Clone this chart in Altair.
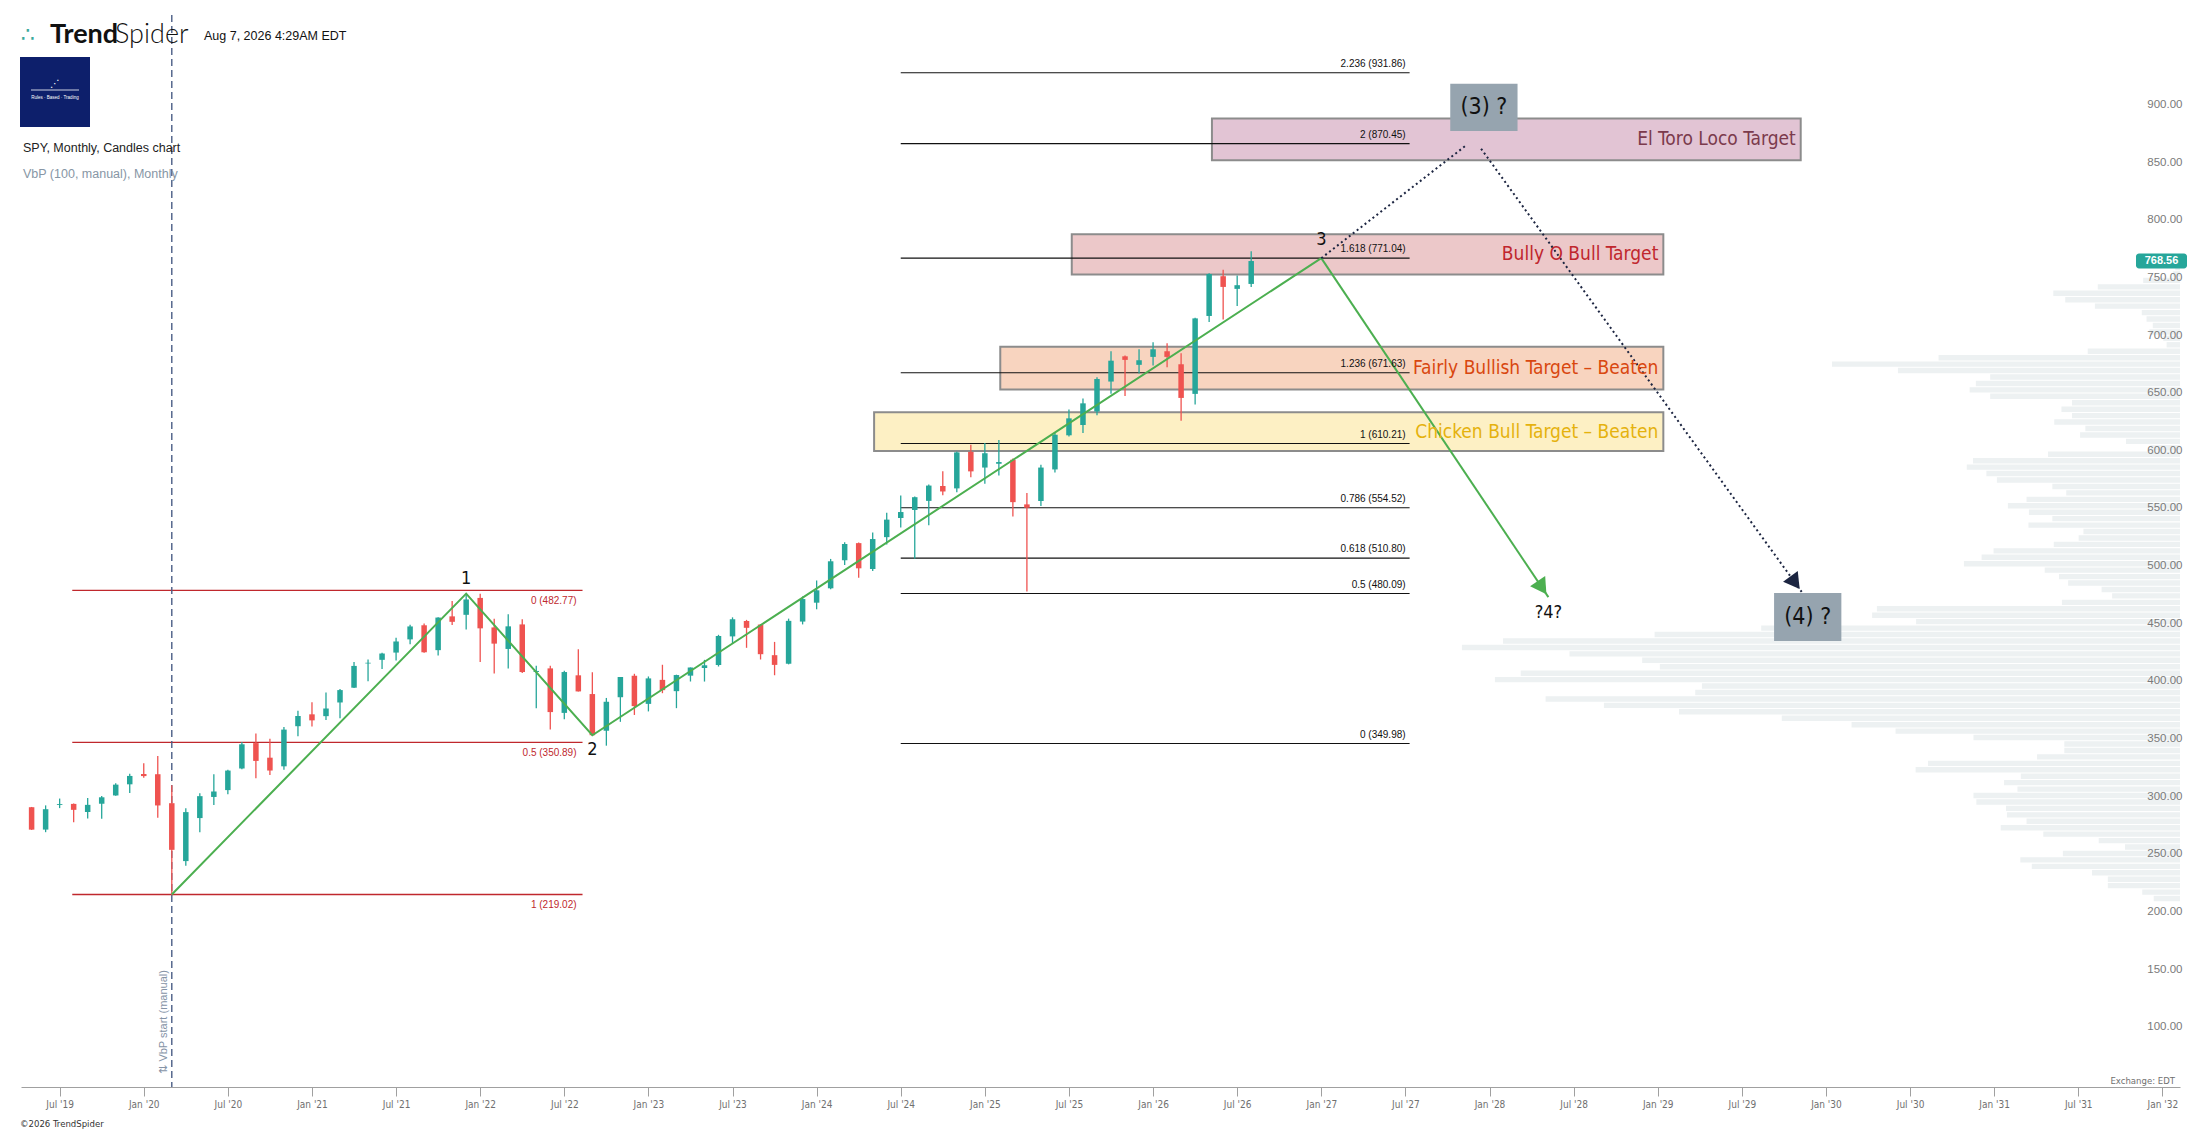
import json
import altair as alt
import pandas as pd

# ---------------- data ----------------
# month index: Jan 2019 = 0, so May 2019 = 4 ... Aug 2026 = 91
first_month = 4
opens = [294.72, 275.31, 296.68, 297.60, 290.57, 297.74, 304.92, 314.59,
         323.54, 323.35, 298.21, 247.98, 285.31, 303.62, 309.57, 328.32, 350.35, 337.69, 330.20, 365.00,
         375.31, 373.72, 385.59, 398.40, 419.43, 422.59, 428.87, 440.34, 452.56, 430.98, 460.30, 461.64,
         476.30, 450.68, 432.03, 453.31, 412.07, 415.17, 376.56, 409.15, 392.89, 361.08, 390.14, 408.77,
         384.37, 405.21, 395.41, 408.85, 415.51, 418.09, 442.92, 456.27, 453.17, 426.62, 419.20, 455.77,
         472.16, 484.63, 508.98, 523.83, 501.38, 529.02, 545.63, 552.57, 560.47, 573.40, 571.32, 602.97,
         589.39, 592.67, 596.18, 557.45, 560.37, 587.76, 617.38, 626.30, 638.00, 664.00, 685.90, 678.50,
         685.40, 690.30, 679.00, 653.30, 720.90, 755.40, 744.40, 748.70]
highs = [294.95, 296.31, 302.23, 297.91, 302.63, 304.55, 315.48, 323.80,
         332.95, 339.08, 313.84, 293.80, 306.84, 323.41, 327.23, 351.30, 358.75, 354.02, 364.38, 378.46,
         385.85, 394.17, 397.26, 420.72, 422.82, 428.78, 441.80, 453.07, 454.05, 459.56, 473.54, 479.00,
         479.98, 458.12, 462.07, 457.83, 417.44, 417.44, 413.03, 431.73, 411.73, 389.52, 407.68, 410.49,
         408.16, 418.31, 409.70, 415.94, 422.58, 444.30, 459.44, 457.25, 453.67, 438.14, 458.32, 477.55,
         491.42, 510.13, 524.61, 524.38, 533.07, 550.28, 565.16, 564.20, 574.71, 586.12, 603.35, 609.07,
         610.78, 613.23, 597.34, 567.42, 591.92, 620.34, 639.84, 649.30, 667.80, 690.30, 686.50, 692.00,
         698.00, 697.20, 688.60, 719.40, 758.00, 761.00, 755.90, 777.10]
lows = [275.00, 273.06, 293.95, 281.72, 284.84, 284.82, 304.74, 307.13,
        320.36, 285.54, 218.26, 243.90, 272.99, 296.74, 306.06, 327.73, 319.80, 322.60, 327.24, 356.32,
        364.82, 370.38, 371.88, 398.18, 404.00, 414.70, 421.97, 436.10, 428.78, 426.36, 452.75, 448.92,
        420.76, 410.64, 415.12, 411.21, 380.54, 362.17, 371.04, 395.04, 357.04, 348.11, 368.79, 374.77,
        377.83, 393.64, 380.65, 403.78, 403.74, 416.79, 437.06, 433.01, 422.88, 409.21, 418.65, 453.31,
        466.43, 483.80, 504.91, 493.86, 499.55, 522.60, 537.45, 510.27, 539.44, 565.27, 567.89, 580.91,
        575.35, 582.44, 546.87, 481.80, 556.04, 585.06, 616.36, 619.40, 634.80, 653.50, 651.50, 671.00,
        678.00, 676.50, 629.90, 644.10, 715.70, 717.80, 729.60, 746.00]
closes = [275.27, 293.00, 297.43, 292.45, 296.77, 303.33, 314.31, 321.86,
          321.73, 296.26, 257.75, 290.48, 304.32, 308.36, 326.52, 349.31, 334.89, 326.54, 362.06, 373.88,
          370.07, 380.36, 396.33, 417.30, 420.04, 428.06, 438.51, 451.56, 429.14, 459.25, 455.56, 474.96,
          449.91, 436.63, 451.64, 412.00, 412.93, 377.25, 411.99, 395.18, 357.18, 386.21, 407.68, 382.43,
          406.48, 396.26, 409.39, 415.93, 417.85, 443.28, 457.79, 450.35, 427.48, 418.20, 456.40, 475.31,
          482.88, 508.08, 523.07, 501.98, 527.37, 544.22, 550.81, 563.68, 573.76, 568.64, 602.55, 586.08,
          601.82, 594.18, 559.39, 554.54, 589.39, 617.85, 632.08, 645.10, 666.20, 682.10, 682.80, 682.50,
          692.00, 685.40, 649.80, 718.80, 757.30, 746.10, 747.60, 768.56]
months = list(range(first_month, first_month + len(opens)))

# Volume by price (100 bins, bottom -> top), relative volume
vbp_low = 212.7
vbp_step = 5.586
vbp_volume = [55, 79, 151, 151, 184, 310, 334, 245, 115, 170,
              286, 375, 321, 362, 364, 426, 432, 340, 368, 333,
              553, 527, 299, 242, 242, 432, 595, 687, 833, 1048,
              1205, 1327, 1014, 1000, 1433, 1379, 1088, 1125, 1277, 1502,
              1416, 1099, 876, 552, 644, 634, 247, 142, 164, 234,
              253, 283, 452, 415, 390, 264, 212, 202, 317, 267,
              316, 360, 321, 238, 267, 383, 405, 446, 433, 276,
              62, 113, 209, 198, 263, 226, 248, 226, 397, 440,
              427, 397, 590, 728, 505, 193, 28, 35, 64, 57,
              70, 80, 178, 240, 265, 172, 77, 15, 10, 5]

# Fibonacci extension (right) and retracement (left)
fib_r_levels = ["2.236", "2", "1.618", "1.236", "1", "0.786", "0.618", "0.5", "0"]
fib_r_prices = [931.86, 870.45, 771.04, 671.63, 610.21, 554.52, 510.80, 480.09, 349.98]
fib_r_start, fib_r_end = 66, 102.3
fib_l_levels = ["0", "0.5", "1"]
fib_l_prices = [482.77, 350.89, 219.02]
fib_l_start, fib_l_end = 6.9, 43.3

# target zones
zone_names = ["Chicken Bull Target – Beaten", "Fairly Bullish Target – Beaten",
              "Bully O Bull Target", "El Toro Loco Target"]
zone_start = [64.1, 73.1, 78.2, 88.2]
zone_end = [120.4, 120.4, 120.4, 130.2]
zone_low = [603.8, 657.1, 756.8, 856.0]
zone_high = [637.4, 694.1, 791.8, 892.2]
zone_fill = ["#fdf0c4", "#f8d4bf", "#ecc8c9", "#e2c4d4"]
zone_text = ["#e5b20e", "#d9470f", "#c0262d", "#7b3a4c"]

# Elliott wave path
wave_m = [14, 35, 44, 96]
wave_p = [219.02, 479.98, 357.18, 771.04]
wave_labels = ["1", "2", "3", "?4?"]
wave_label_m = [35, 44, 96, 112.2]
wave_label_p = [493, 344, 787, 463]
proj_green = [(96, 771.04), (112.2, 477.0)]
proj_dot_a = [(96, 771.04), (106.4, 869.6)]
proj_dot_b = [(107.4, 866.0), (130.3, 481.0)]

q_names = ["(3) ?", "(4) ?"]
q_start = [105.2, 128.3]
q_end = [110.0, 133.1]
q_low = [881.4, 439.0]
q_high = [922.3, 480.6]

vbp_start_month = 14
last_price = closes[-1]

tick_months = list(range(6, 157, 6))
tick_labels = ["Jul '19", "Jan '20", "Jul '20", "Jan '21", "Jul '21", "Jan '22", "Jul '22",
               "Jan '23", "Jul '23", "Jan '24", "Jul '24", "Jan '25", "Jul '25", "Jan '26",
               "Jul '26", "Jan '27", "Jul '27", "Jan '28", "Jul '28", "Jan '29", "Jul '29",
               "Jan '30", "Jul '30", "Jan '31", "Jul '31", "Jan '32"]
price_ticks = list(range(100, 901, 50))

# ---------------- styling ----------------
W, H = 2159, 1072
NARROW = "Liberation Sans Narrow, DejaVu Sans Condensed, Liberation Sans, sans-serif"
SANS = "Liberation Sans, DejaVu Sans, sans-serif"
UP, DOWN = "#26a69a", "#ef5350"

x_scale = alt.Scale(domain=[3.6, 156.9], nice=False, zero=False)
y_scale = alt.Scale(domain=[52, 982], nice=False, zero=False)
label_expr = json.dumps(tick_labels) + "[round((datum.value - 6) / 6)]"
x_axis = alt.Axis(values=tick_months, labelExpr=label_expr, grid=False, title=None,
                  domainColor="#a0a0a0", tickColor="#a0a0a0", tickSize=9, zindex=1,
                  labelFont=NARROW, labelFontSize=10, labelColor="#707070", labelPadding=3)
y_axis = alt.Axis(orient="right", values=price_ticks, format=".2f", grid=False, title=None,
                  domain=False, ticks=False, labelAlign="right", labelPadding=2, zindex=1,
                  labelBaseline="bottom", labelFont=SANS, labelFontSize=11.5, labelColor="#7a7a7a")


def X(f):
    return alt.X(f, type="quantitative", scale=x_scale, axis=x_axis)


def Y(f):
    return alt.Y(f, type="quantitative", scale=y_scale, axis=y_axis)


one = pd.DataFrame({"a": [0]})

# ---------------- layers ----------------
candles = pd.DataFrame({"m": months, "o": opens, "h": highs, "l": lows, "c": closes})
col = alt.condition("datum.c >= datum.o", alt.value(UP), alt.value(DOWN))
wicks = alt.Chart(candles).mark_rule(strokeWidth=1.3).encode(x=X("m"), y=Y("l"), y2="h", color=col)
bodies = alt.Chart(candles).mark_bar(size=5.5).encode(x=X("m"), y=Y("o"), y2="c", color=col)

vbp_df = pd.DataFrame({"i": list(range(len(vbp_volume))), "v": vbp_volume})
vbp = alt.Chart(vbp_df).transform_calculate(
    lo=f"{vbp_low} + datum.i * {vbp_step} + 0.45",
    hi=f"{vbp_low} + (datum.i + 1) * {vbp_step} - 0.45",
    zero="0",
).mark_rect(color="#edf1f2").encode(
    x=alt.X("v:Q", scale=alt.Scale(domain=[0, 4516], reverse=True, nice=False, zero=True), axis=None),
    x2="zero:Q",
    y=Y("lo"), y2="hi",
)

zones = pd.DataFrame({"name": zone_names, "m0": zone_start, "m1": zone_end, "lo": zone_low,
                      "hi": zone_high, "fill": zone_fill, "tc": zone_text})
zone_rects = alt.Chart(zones).mark_rect(stroke="#8c8c8c", strokeWidth=2).encode(
    x=X("m0"), x2="m1", y=Y("lo"), y2="hi", fill=alt.Fill("fill:N", scale=None))
zone_labels = alt.Chart(zones).transform_calculate(mid="(datum.lo + datum.hi) / 2").mark_text(
    align="right", baseline="middle", dx=-5, font=NARROW, fontSize=19).encode(
    x=X("m1"), y=Y("mid"), text="name:N", color=alt.Color("tc:N", scale=None))

fr = pd.DataFrame({"lvl": fib_r_levels, "p": fib_r_prices})
fr["txt"] = [f"{a} ({b:.2f})" for a, b in zip(fib_r_levels, fib_r_prices)]
fr["m0"] = fib_r_start
fr["m1"] = fib_r_end
fib_r_lines = alt.Chart(fr).mark_rule(color="#111111", strokeWidth=1.1).encode(
    x=X("m0"), x2="m1", y=Y("p"))
fib_r_text = alt.Chart(fr).mark_text(align="right", baseline="alphabetic", dx=-4, dy=-6,
                                      font=SANS, fontSize=10, color="#111111").encode(
    x=X("m1"), y=Y("p"), text="txt:N")

fl = pd.DataFrame({"lvl": fib_l_levels, "p": fib_l_prices})
fl["txt"] = [f"{a} ({b:.2f})" for a, b in zip(fib_l_levels, fib_l_prices)]
fl["m0"] = fib_l_start
fl["m1"] = fib_l_end
fib_l_lines = alt.Chart(fl).mark_rule(color="#c0282d", strokeWidth=1.3).encode(
    x=X("m0"), x2="m1", y=Y("p"))
fib_l_text = alt.Chart(fl).mark_text(align="right", baseline="top", dx=-6, dy=6,
                                      font=SANS, fontSize=10, color="#c0282d").encode(
    x=X("m1"), y=Y("p"), text="txt:N")

vline_df = pd.DataFrame({"m": [vbp_start_month]})
vline = alt.Chart(vline_df).mark_rule(color="#4b5e86", strokeWidth=1.4, strokeDash=[7, 4]).encode(x=X("m"))
vline_text = alt.Chart(vline_df).mark_text(angle=270, align="center", baseline="bottom", dy=-3,
                                            font=SANS, fontSize=11, color="#8593a6").encode(
    x=X("m"), y=alt.value(1007), text=alt.value("⇅ VbP start (manual)"))

wave_df = pd.DataFrame({"m": wave_m, "p": wave_p, "k": list(range(len(wave_m)))})
wave_line = alt.Chart(wave_df).mark_line(color="#4caf50", strokeWidth=2).encode(
    x=X("m"), y=Y("p"), order="k:O")

g_df = pd.DataFrame({"m": [a for a, b in proj_green], "p": [b for a, b in proj_green], "k": [0, 1]})
green_line = alt.Chart(g_df).mark_line(color="#4caf50", strokeWidth=2).encode(
    x=X("m"), y=Y("p"), order="k:O")

d_df = pd.DataFrame({"m": [a for a, b in proj_dot_a] + [a for a, b in proj_dot_b],
                     "p": [b for a, b in proj_dot_a] + [b for a, b in proj_dot_b],
                     "seg": ["a", "a", "b", "b"], "k": [0, 1, 0, 1]})
dot_lines = alt.Chart(d_df).mark_line(color="#1c2541", strokeWidth=2, strokeDash=[2, 3]).encode(
    x=X("m"), y=Y("p"), detail="seg:N", order="k:O")


def head_point(seg, t):
    (m0, p0), (m1, p1) = seg
    return m0 + (m1 - m0) * t, p0 + (p1 - p0) * t


gh = head_point(proj_green, 0.972)
bh = head_point(proj_dot_b, 0.978)
green_head = alt.Chart(pd.DataFrame({"m": [gh[0]], "p": [gh[1]]})).mark_point(
    shape="triangle-up", filled=True, size=330, angle=146, color="#4caf50", opacity=1).encode(
    x=X("m"), y=Y("p"))
black_head = alt.Chart(pd.DataFrame({"m": [bh[0]], "p": [bh[1]]})).mark_point(
    shape="triangle-up", filled=True, size=330, angle=144, color="#1c2541", opacity=1).encode(
    x=X("m"), y=Y("p"))

wl_df = pd.DataFrame({"t": wave_labels, "m": wave_label_m, "p": wave_label_p})
wave_text = alt.Chart(wl_df).mark_text(align="center", baseline="middle", font=NARROW,
                                       fontSize=18, color="#111111").encode(
    x=X("m"), y=Y("p"), text="t:N")

q_df = pd.DataFrame({"t": q_names, "m0": q_start, "m1": q_end, "lo": q_low, "hi": q_high})
q_rects = alt.Chart(q_df).mark_rect(color="#96a4af").encode(x=X("m0"), x2="m1", y=Y("lo"), y2="hi")
q_text = alt.Chart(q_df).transform_calculate(
    mx="(datum.m0 + datum.m1) / 2", my="(datum.lo + datum.hi) / 2").mark_text(
    align="center", baseline="middle", font=NARROW, fontSize=23, color="#111111").encode(
    x=X("mx"), y=Y("my"), text="t:N")

tag_df = pd.DataFrame({"p": [last_price]})
tag_rect = alt.Chart(tag_df).transform_calculate(lo="datum.p - 6.5", hi="datum.p + 6.5").mark_rect(
    color="#26a69a", cornerRadius=3).encode(x=alt.value(2115), x2=alt.value(2166), y=Y("lo"), y2="hi")
tag_text = alt.Chart(tag_df).mark_text(align="center", baseline="middle", font=SANS, fontSize=11,
                                       fontWeight="bold", color="white").encode(
    x=alt.value(2140.5), y=Y("p"), text=alt.Text("p:Q", format=".2f"))


# header & footer
def txt(s, x, y, **kw):
    return alt.Chart(one).mark_text(**kw).encode(x=alt.value(x), y=alt.value(y), text=alt.value(s))


logo_icon = txt("∴", 0, 27, align="left", baseline="alphabetic", font="DejaVu Sans", fontSize=22,
                color="#3aa99c")
logo_a = txt("Trend", 29, 28, align="left", baseline="alphabetic", font="Lato, Liberation Sans",
             fontSize=27, fontWeight="bold", color="#111111")
logo_b = txt("Spider", 94, 28, align="left", baseline="alphabetic", font="Lato, Liberation Sans",
             fontSize=27, fontWeight=300, color="#111111")
date_t = txt("Aug 7, 2026 4:29AM EDT", 183, 21, align="left", baseline="middle", font=SANS,
             fontSize=12.5, color="#111111")
blue_sq = alt.Chart(one).mark_rect(color="#0d1f6b").encode(
    x=alt.value(-1), x2=alt.value(69), y=alt.value(42), y2=alt.value(112))
sq_line = alt.Chart(one).mark_rule(color="white", strokeWidth=0.8).encode(
    x=alt.value(10), x2=alt.value(58), y=alt.value(75))
sq_text = txt("Rules · Based · Trading", 34, 83, align="center", baseline="middle", font=SANS,
              fontSize=4.5, color="white")
sq_dots = txt("⋰", 34, 69, align="center", baseline="middle", font="DejaVu Sans", fontSize=10,
              color="white")
spy_t = txt("SPY, Monthly, Candles chart", 2, 133, align="left", baseline="middle", font=SANS,
            fontSize=12.5, color="#222222")
vbp_t = txt("VbP (100, manual), Monthly", 2, 159, align="left", baseline="middle", font=SANS,
            fontSize=12.5, color="#8796a5")
exch_t = txt("Exchange: EDT", 2154, 1066, align="right", baseline="middle", font=NARROW,
             fontSize=9.5, color="#707070")
copy_t = txt("©2026 TrendSpider", -1, 1109, align="left", baseline="middle", font=NARROW,
             fontSize=9.5, color="#333333")

main = alt.layer(
    zone_rects, fib_r_lines, fib_l_lines, vline, vline_text,
    wicks, bodies, wave_line, green_line, dot_lines, green_head, black_head,
    q_rects, q_text, zone_labels, fib_r_text, fib_l_text, wave_text,
    tag_rect, tag_text,
    logo_icon, logo_a, logo_b, date_t, blue_sq, sq_line, sq_text, sq_dots, spy_t, vbp_t,
    exch_t, copy_t,
)

chart = alt.layer(vbp, main).resolve_scale(x="independent").properties(
    width=W, height=H,
    autosize=alt.AutoSizeParams(type="none"),
    padding={"left": 13, "top": 7, "right": 19, "bottom": 44},
    background="white",
).configure_view(stroke=None)

chart.save("out.html", embed_options={"renderer": "svg", "actions": False})
